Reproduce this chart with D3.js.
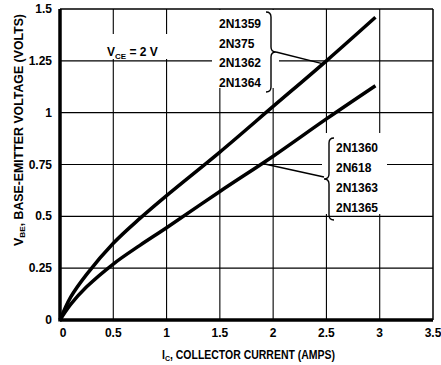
<!DOCTYPE html>
<html>
  <head>
    <meta charset="utf-8">
    <title>VBE vs IC</title>
    <script src="https://d3js.org/d3.v7.min.js"></script>
    <style>
      body { margin: 0; background: #fff; }
      text { font-family: "Liberation Sans", Arial, sans-serif; fill: #000; }
    </style>
  </head>
  <body>
    <script>
      // chart size
      var W = 441, H = 365;
      var margin = {top: 9, right: 8, bottom: 45, left: 60};

      // data
      var xTicks = [0, 0.5, 1, 1.5, 2, 2.5, 3, 3.5];
      var xTickLabels = ["0", "0.5", "1", "1.5", "2", "2.5", "3", "3.5"];
      var yTicks = [0, 0.25, 0.5, 0.75, 1, 1.25, 1.5];
      var yTickLabels = ["0", "0.25", "0.5", "0.75", "1", "1.25", "1.5"];

      var upperIc = [0, 0.1, 0.25, 0.5, 0.75, 1, 1.5, 2, 2.5, 2.96];
      var upperVbe = [0, 0.11, 0.22, 0.37, 0.49, 0.6, 0.81, 1.03, 1.25, 1.46];
      var lowerIc = [0, 0.1, 0.25, 0.5, 0.75, 1, 1.5, 2, 2.5, 2.96];
      var lowerVbe = [0, 0.075, 0.16, 0.27, 0.36, 0.445, 0.62, 0.79, 0.97, 1.13];

      var upperTypes = ["2N1359", "2N375", "2N1362", "2N1364"];
      var lowerTypes = ["2N1360", "2N618", "2N1363", "2N1365"];

      var svg = d3.select("body").append("svg")
                  .attr("width", W)
                  .attr("height", H);

      var x = d3.scaleLinear().domain([0, 3.5]).range([margin.left, W - margin.right]);
      var y = d3.scaleLinear().domain([0, 1.5]).range([H - margin.bottom, margin.top]);

      // grid
      var grid = svg.append("g").attr("stroke", "#000").attr("stroke-width", 1.1);
      grid.selectAll(".vg").data(xTicks.slice(1, -1)).enter().append("line")
          .attr("x1", function(d) { return x(d); }).attr("x2", function(d) { return x(d); })
          .attr("y1", y(0)).attr("y2", y(1.5));
      grid.selectAll(".hg").data(yTicks.slice(1, -1)).enter().append("line")
          .attr("x1", x(0)).attr("x2", x(3.5))
          .attr("y1", function(d) { return y(d); }).attr("y2", function(d) { return y(d); });

      // white patches behind the labels (grid is broken there)
      svg.append("rect").attr("x", 106).attr("y", 34).attr("width", 65).attr("height", 25).attr("fill", "#fff");
      svg.append("rect").attr("x", 212).attr("y", 10).attr("width", 67).attr("height", 78).attr("fill", "#fff");
      svg.append("rect").attr("x", 322).attr("y", 133).attr("width", 65).attr("height", 81).attr("fill", "#fff");

      // frame
      svg.append("line").attr("x1", x(0)).attr("x2", x(3.5)).attr("y1", y(1.5)).attr("y2", y(1.5))
         .attr("stroke", "#000").attr("stroke-width", 1.5);
      svg.append("line").attr("x1", x(3.5)).attr("x2", x(3.5)).attr("y1", y(0)).attr("y2", y(1.5))
         .attr("stroke", "#000").attr("stroke-width", 1.5);
      svg.append("line").attr("x1", x(0)).attr("x2", x(0)).attr("y1", y(0) + 1.5).attr("y2", y(1.5))
         .attr("stroke", "#000").attr("stroke-width", 3.5);
      svg.append("line").attr("x1", x(0)).attr("x2", x(3.5)).attr("y1", y(0)).attr("y2", y(0))
         .attr("stroke", "#000").attr("stroke-width", 3.5);

      // tick labels
      svg.selectAll(".xl").data(xTicks).enter().append("text")
         .attr("x", function(d) { return x(d) + (d === 0 ? 3 : 0); })
         .attr("y", 337)
         .attr("text-anchor", "middle")
         .style("font-size", "12px").style("font-weight", "bold")
         .text(function(d, i) { return xTickLabels[i]; });
      svg.selectAll(".yl").data(yTicks).enter().append("text")
         .attr("x", 52)
         .attr("y", function(d) { return y(d) + 4; })
         .attr("text-anchor", "end")
         .style("font-size", "12px").style("font-weight", "bold")
         .text(function(d, i) { return yTickLabels[i]; });

      // curves
      var line = d3.line()
                   .x(function(d) { return x(d[0]); })
                   .y(function(d) { return y(d[1]); })
                   .curve(d3.curveCatmullRom);
      svg.append("path").datum(d3.zip(upperIc, upperVbe))
         .attr("d", line).attr("fill", "none").attr("stroke", "#000").attr("stroke-width", 3.5);
      svg.append("path").datum(d3.zip(lowerIc, lowerVbe))
         .attr("d", line).attr("fill", "none").attr("stroke", "#000").attr("stroke-width", 3.5);

      // VCE label
      var vce = svg.append("text").attr("x", 107).attr("y", 56)
                   .style("font-size", "12px").style("font-weight", "bold");
      vce.append("tspan").text("V");
      vce.append("tspan").attr("dy", 3).style("font-size", "8px").text("CE");
      vce.append("tspan").attr("dy", -3).text(" = 2 V");

      // curly brace helper
      function brace(bx, y1, y2, dir, w) {
        var ym = (y1 + y2) / 2, h = bx + dir * w / 2, t = bx + dir * w, r = 5;
        return "M" + bx + "," + y1 +
               " Q" + h + "," + y1 + " " + h + "," + (y1 + r) +
               " L" + h + "," + (ym - r) +
               " Q" + h + "," + ym + " " + t + "," + ym +
               " Q" + h + "," + ym + " " + h + "," + (ym + r) +
               " L" + h + "," + (y2 - r) +
               " Q" + h + "," + y2 + " " + bx + "," + y2;
      }

      // upper group
      svg.selectAll(".ut").data(upperTypes).enter().append("text")
         .attr("x", 219).attr("y", function(d, i) { return 28 + i * 19.7; })
         .style("font-size", "12px").style("font-weight", "bold")
         .text(function(d) { return d; });
      svg.append("path").attr("d", brace(266, 12, 92, 1, 10))
         .attr("fill", "none").attr("stroke", "#000").attr("stroke-width", 1.4);
      svg.append("path")
         .attr("d", "M276,52 Q292,56 " + x(2.47) + "," + y(1.235))
         .attr("fill", "none").attr("stroke", "#000").attr("stroke-width", 1.4);

      // lower group
      svg.selectAll(".lt").data(lowerTypes).enter().append("text")
         .attr("x", 336).attr("y", function(d, i) { return 152 + i * 20; })
         .style("font-size", "12px").style("font-weight", "bold")
         .text(function(d) { return d; });
      svg.append("path").attr("d", brace(334, 138, 220, -1, 10))
         .attr("fill", "none").attr("stroke", "#000").attr("stroke-width", 1.4);
      svg.append("path")
         .attr("d", "M324,177 L" + x(1.9) + "," + y(0.755))
         .attr("fill", "none").attr("stroke", "#000").attr("stroke-width", 1.4);

      // axis titles
      var xt = svg.append("text").attr("x", 162).attr("y", 359)
                  .attr("textLength", 173).attr("lengthAdjust", "spacingAndGlyphs")
                  .style("font-size", "12px").style("font-weight", "bold");
      xt.append("tspan").text("I");
      xt.append("tspan").attr("dy", 2).style("font-size", "8px").text("C");
      xt.append("tspan").attr("dy", -2).text(", COLLECTOR CURRENT (AMPS)");

      var yt = svg.append("text")
                  .attr("transform", "translate(23,246) rotate(-90)")
                  .attr("textLength", 232).attr("lengthAdjust", "spacingAndGlyphs")
                  .style("font-size", "12px").style("font-weight", "bold");
      yt.append("tspan").text("V");
      yt.append("tspan").attr("dy", 2).style("font-size", "8px").text("BE");
      yt.append("tspan").attr("dy", -2).text(", BASE-EMITTER VOLTAGE (VOLTS)");
    </script>
  </body>
</html>
